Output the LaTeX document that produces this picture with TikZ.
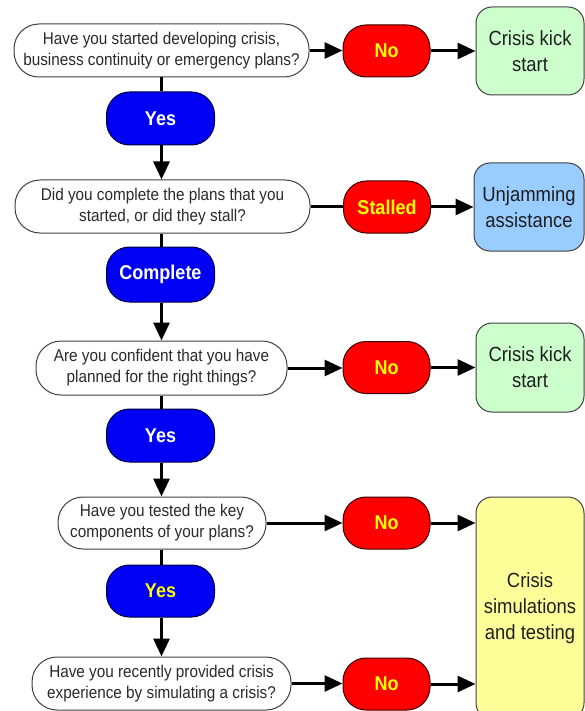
\documentclass[tikz,border=0pt]{standalone}
\usepackage{fontspec}
\setmainfont{Liberation Sans}[FakeStretch=0.9]
\usetikzlibrary{arrows.meta}
\definecolor{qborder}{HTML}{404040}
\definecolor{qtext}{HTML}{2A2A2A}
\definecolor{nored}{HTML}{FF0000}
\definecolor{noborder}{HTML}{3A0000}
\definecolor{noyellow}{HTML}{FFFF00}
\definecolor{yesblue}{HTML}{0000F5}
\definecolor{yesborder}{HTML}{00003A}
\definecolor{resborder}{HTML}{404040}
\definecolor{resgreen}{HTML}{CCFFCC}
\definecolor{resblue}{HTML}{99CCFF}
\definecolor{resyellow}{HTML}{FFFF99}
\begin{document}
\begin{tikzpicture}[x=1pt,y=-1pt,
  qbox/.style={draw=qborder, line width=1pt, fill=white, rounded corners=25pt,
    align=center, text=qtext, font=\fontsize{17}{21}\selectfont, inner sep=0pt,
    minimum height=53pt},
  nobox/.style={draw=noborder, line width=1pt, fill=nored, rounded corners=23pt,
    minimum width=87pt, minimum height=52pt, text=noyellow,
    font=\fontsize{20}{23}\selectfont\bfseries, inner sep=0pt},
  yesbox/.style={draw=yesborder, line width=1pt, fill=yesblue, rounded corners=23pt,
    minimum width=108pt, minimum height=53pt, text=white,
    font=\fontsize{20}{23}\selectfont\bfseries, inner sep=0pt},
  resbox/.style={draw=resborder, line width=1pt, rounded corners=16pt, align=center,
    text=black!88, font=\fontsize{20.5}{26}\selectfont, inner sep=0pt,
    minimum width=108pt},
  flow/.style={line width=3pt, draw=black},
  arr/.style={flow, -{Triangle[length=18pt,width=16pt]}}]
\clip (0,0) rectangle (585,711);
\fill[white] (0,0) rectangle (585,711);

% row 1
\node[qbox, minimum width=295pt] (q1) at (161.5,50.5) {Have you started developing crisis,\\business continuity or emergency plans?};
\node[nobox] (n1) at (386.5,51) {No};
\node[resbox, fill=resgreen, minimum height=88pt] (r1) at (530,51) {Crisis kick\\start};
\node[yesbox] (y1) at (160.5,118.5) {Yes};

% row 2
\node[qbox, minimum width=295pt] (q2) at (162.5,206.5) {Did you complete the plans that you\\started, or did they stall?};
\node[nobox] (s2) at (387,207) {Stalled};
\node[resbox, fill=resblue, minimum width=110pt, minimum height=88pt] (r2) at (529,207) {Unjamming\\assistance};
\node[yesbox, minimum height=55pt] (y2) at (160.5,274.5) {Complete};

% row 3
\node[qbox, minimum width=251pt, minimum height=54pt] (q3) at (161.5,368) {Are you confident that you have\\planned for the right things?};
\node[nobox] (n3) at (386.5,367.5) {No};
\node[resbox, fill=resgreen, minimum height=89pt] (r3) at (530,367.5) {Crisis kick\\start};
\node[yesbox] (y3) at (160.5,435.5) {Yes};

% row 4
\node[qbox, minimum width=208pt, minimum height=52pt] (q4) at (162,523) {Have you tested the key\\components of your plans?};
\node[nobox] (n4) at (386.5,523) {No};
\node[resbox, fill=resyellow, minimum height=222pt] (r4) at (530,608) {Crisis\\simulations\\and testing};
\node[yesbox, minimum height=52pt, text=noyellow] (y4) at (160.5,591) {Yes};

% row 5
\node[qbox, minimum width=259pt] (q5) at (161.5,683.5) {Have you recently provided crisis\\experience by simulating a crisis?};
\node[nobox] (n5) at (386.5,684) {No};

% horizontal connectors
\draw[arr] (q1.east) -- (q1.east -| n1.west);
\draw[arr] (n1.east) -- (n1.east -| r1.west);
\draw[flow] (q2.east) -- (q2.east -| s2.west);
\draw[arr] (s2.east) -- (s2.east -| r2.west);
\draw[arr] (q3.east) -- (q3.east -| n3.west);
\draw[arr] (n3.east) -- (n3.east -| r3.west);
\draw[arr] (q4.east) -- (q4.east -| n4.west);
\draw[arr] (n4.east) -- (n4.east -| r4.west);
\draw[arr] (q5.east) -- (q5.east -| n5.west);
\draw[arr] (n5.east) -- (n5.east -| r4.west);

% vertical connectors
\draw[flow] (q1.south) -- (q1.south |- y1.north);
\draw[arr] (y1.south -| q1.south) -- (q2.north -| q1.south);
\draw[flow] (q2.south -| q1.south) -- (y2.north -| q1.south);
\draw[arr] (y2.south -| q1.south) -- (q3.north -| q1.south);
\draw[flow] (q3.south -| q1.south) -- (y3.north -| q1.south);
\draw[arr] (y3.south -| q1.south) -- (q4.north -| q1.south);
\draw[flow] (q4.south -| q1.south) -- (y4.north -| q1.south);
\draw[arr] (y4.south -| q1.south) -- (q5.north -| q1.south);
\end{tikzpicture}
\end{document}
